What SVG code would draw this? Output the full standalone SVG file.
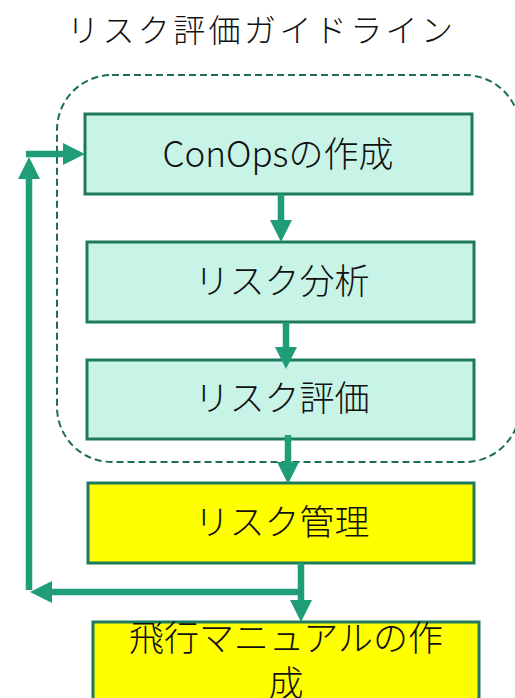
<svg xmlns="http://www.w3.org/2000/svg" width="515" height="698" viewBox="0 0 515 698">
<style>
.t{font-family:"Noto Sans CJK JP","Noto Sans",sans-serif;fill:#111;font-weight:300;}
.n{font-size:35px;text-anchor:middle;}
.g{fill:#c7f4e6;stroke:#1e7a5c;stroke-width:3;}
.y{fill:#ffff00;stroke:#1e7a5c;stroke-width:3;}
.c{fill:none;stroke:#1f9c78;stroke-width:6.5;}
</style>
<defs>
<marker id="ah" viewBox="0 0 22 22" refX="0" refY="11" markerWidth="22" markerHeight="22" markerUnits="userSpaceOnUse" orient="auto">
<path d="M0,0 L22,11 L0,22 z" fill="#1f9c78"/>
</marker>
</defs>
<rect width="515" height="698" fill="#fff"/>
<text class="t" x="67" y="42" font-size="32" textLength="386" lengthAdjust="spacing">リスク評価ガイドライン</text>
<rect id="group" x="57" y="75" width="463" height="387" rx="55" fill="none" stroke="#1e6e50" stroke-width="2" stroke-dasharray="7 4"/>
<g id="conops"><rect class="g" x="85" y="114" width="387" height="80"/><text class="t n" x="278" y="167">ConOpsの作成</text></g>
<g id="analysis"><rect class="g" x="87" y="242" width="387" height="80"/><text class="t n" x="282" y="294">リスク分析</text></g>
<g id="evaluation"><rect class="g" x="87" y="360" width="387" height="79"/><text class="t n" x="282" y="411">リスク評価</text></g>
<g id="management"><rect class="y" x="88" y="483" width="386" height="80"/><text class="t n" x="282" y="535">リスク管理</text></g>
<g id="manual"><rect class="y" x="93" y="622" width="386" height="90"/><text class="t n" x="286" y="651">飛行マニュアルの作</text><text class="t n" x="286" y="696">成</text></g>
<g id="connectors">
<line class="c" x1="281" y1="194" x2="281" y2="220" marker-end="url(#ah)"/>
<line class="c" x1="286" y1="322" x2="286" y2="347" marker-end="url(#ah)"/>
<line class="c" x1="288" y1="435" x2="288" y2="462" marker-end="url(#ah)"/>
<line class="c" x1="301" y1="563" x2="301" y2="600" marker-end="url(#ah)"/>
<line class="c" x1="304" y1="592" x2="52" y2="592" marker-end="url(#ah)"/>
<line class="c" x1="29" y1="590" x2="29" y2="179" marker-end="url(#ah)"/>
<line class="c" x1="26" y1="154" x2="63" y2="154" marker-end="url(#ah)"/>
</g>
</svg>
